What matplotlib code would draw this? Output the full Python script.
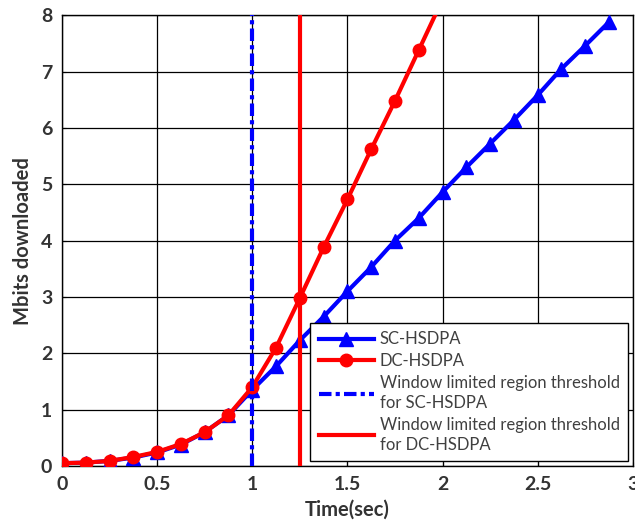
import matplotlib
matplotlib.use("Agg")
import matplotlib.pyplot as plt

t = [0, 0.125, 0.25, 0.375, 0.5, 0.625, 0.75, 0.875, 1.0, 1.125, 1.25, 1.375, 1.5,
     1.625, 1.75, 1.875, 2.0, 2.125, 2.25, 2.375, 2.5, 2.625, 2.75, 2.875]
sc_hsdpa = [0.05, 0.06, 0.09, 0.15, 0.24, 0.38, 0.6, 0.9, 1.35, 1.77, 2.23, 2.65, 3.1,
            3.53, 4.0, 4.4, 4.86, 5.3, 5.72, 6.14, 6.58, 7.05, 7.46, 7.88]
t_dc = [0, 0.125, 0.25, 0.375, 0.5, 0.625, 0.75, 0.875, 1.0, 1.125, 1.25, 1.375, 1.5,
        1.625, 1.75, 1.875, 2.0]
dc_hsdpa = [0.05, 0.06, 0.09, 0.16, 0.25, 0.39, 0.6, 0.9, 1.4, 2.1, 2.98, 3.88, 4.73,
            5.62, 6.48, 7.38, 8.28]
sc_threshold = 1.0
dc_threshold = 1.25
xticks = [0, 0.5, 1, 1.5, 2, 2.5, 3]
xtick_labels = ["0", "0.5", "1", "1.5", "2", "2.5", "3"]
yticks = [0, 1, 2, 3, 4, 5, 6, 7, 8]

plt.rcParams['font.family'] = ['Lato', 'DejaVu Sans']
fig = plt.figure(figsize=(6.35, 5.23), dpi=100)
ax = fig.add_axes([0.0976, 0.109, 0.899, 0.862])

ax.plot(t, sc_hsdpa, color='#0000ff', lw=3, marker='^', ms=10, label='SC-HSDPA', zorder=3)
ax.plot(t_dc, dc_hsdpa, color='#ff0000', lw=3, marker='o', ms=9, label='DC-HSDPA', zorder=4)
ax.axvline(sc_threshold, color='#0000ff', lw=3, ls=(0, (3, 1, 1, 1)),
           label='Window limited region threshold\nfor SC-HSDPA', zorder=5)
ax.axvline(dc_threshold, color='#ff0000', lw=3, ls='-',
           label='Window limited region threshold\nfor DC-HSDPA', zorder=5)

ax.set_xlim(0, 3)
ax.set_ylim(0, 8)
ax.set_xticks(xticks)
ax.set_xticklabels(xtick_labels)
ax.set_yticks(yticks)
ax.grid(True, color='black', lw=0.9)
ax.set_axisbelow(True)
ax.tick_params(direction='in', length=3, labelsize=14, width=0.8, pad=7)
for lbl in ax.get_xticklabels() + ax.get_yticklabels():
    lbl.set_fontweight('bold')
    lbl.set_color('#333333')
for s in ax.spines.values():
    s.set_color('black')
    s.set_linewidth(1.0)
ax.set_xlabel('Time(sec)', fontsize=14.5, fontweight='bold', color='#333333', labelpad=5)
ax.set_ylabel('Mbits downloaded', fontsize=14.5, fontweight='bold', color='#333333', labelpad=6)

leg = ax.legend(loc='lower right', fontsize=12, handlelength=3.3, frameon=True, fancybox=False,
                edgecolor='black', framealpha=1, borderaxespad=0.3, labelspacing=0.35,
                handletextpad=0.35, borderpad=0.5)
leg.get_frame().set_linewidth(1.0)
for txt in leg.get_texts():
    txt.set_color('#404040')
    txt.set_linespacing(1.3)

fig.savefig('out.png', dpi=100)
